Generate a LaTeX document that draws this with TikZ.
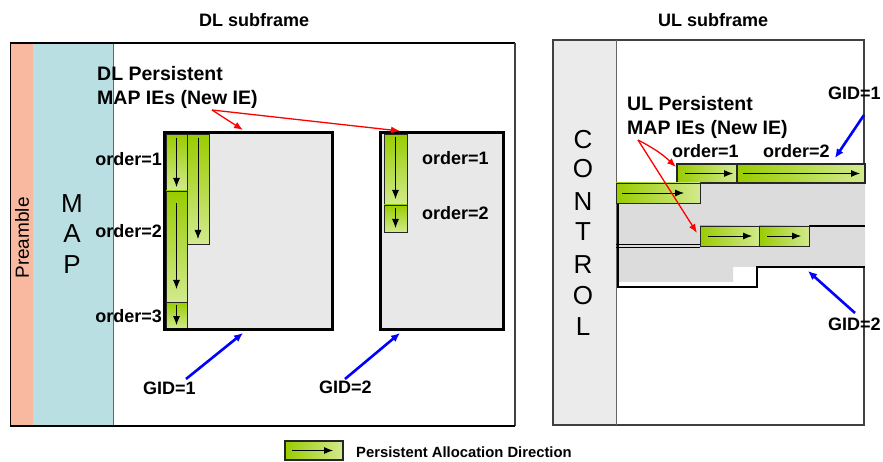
\documentclass[tikz,border=0pt]{standalone}
\usepackage{fontspec}
\setmainfont{Liberation Sans}
\usetikzlibrary{arrows.meta}
\definecolor{gdark}{HTML}{99CC00}
\definecolor{glight}{HTML}{D2EA8E}
\definecolor{boxgray}{HTML}{E8E8E8}
\definecolor{ulgray}{HTML}{DCDCDC}
\definecolor{ctrlgray}{HTML}{EBEBEB}
\definecolor{preamb}{HTML}{F9B8A0}
\definecolor{mapblue}{HTML}{B9DFE3}
\tikzset{
  x=1pt, y=-1pt,
  vstrip/.style={draw=black!85, line width=0.8pt, top color=gdark, bottom color=glight, anchor=north west, inner sep=0pt, outer sep=0pt},
  hstrip/.style={draw=black!85, line width=0.8pt, left color=gdark, right color=glight, anchor=north west, inner sep=0pt, outer sep=0pt},
  dirarrow/.style={-{Latex[length=9pt,width=7pt]}, line width=0.8pt, black},
  redarrow/.style={-{Latex[length=9pt,width=7pt]}, red, line width=1.3pt},
  bluearrow/.style={-{Latex[length=9pt,width=8pt]}, blue, line width=2.6pt},
  lbl/.style={font=\fontsize{18}{24}\selectfont\bfseries, inner sep=0pt},
  perslbl/.style={font=\fontsize{19.5}{24.5}\selectfont\bfseries, inner sep=0pt},
  bigletter/.style={font=\fontsize{26}{26}\selectfont, inner sep=0pt},
  gbox/.style={fill=boxgray, anchor=north west, inner sep=0pt, outer sep=0pt}
}
\begin{document}
\begin{tikzpicture}
\useasboundingbox[fill=white] (0,0) rectangle (883,462);

% ---------------- DL subframe ----------------
\node[lbl, anchor=base west] (dltitle) at (199,27) {DL subframe};
\fill[preamb] (10,43) rectangle (33,426);
\draw[line width=1pt] (10,43) rectangle (33,426);
\fill[mapblue] (33,43) rectangle (113,426);
\draw[line width=1pt, black!60] (113,43) -- (113,426);
\draw[line width=1.2pt] (10,43) -- (515,43);
\draw[line width=1.2pt, black!75] (515,43) -- (515,426);
\draw[line width=2pt] (10,426) -- (515,426);
\node[font=\fontsize{19}{19}\selectfont, rotate=90, inner sep=0pt] (pre) at (22,238) {Preamble};
\node[bigletter] (mapM) at (72,204) {M};
\node[bigletter] (mapA) at (72,234) {A};
\node[bigletter] (mapP) at (72,265) {P};

\node[perslbl, anchor=north west, align=left] (dlpers) at (97,66) {DL Persistent\\MAP IEs (New IE)};

% GID=1 box
\node[gbox, minimum width=168pt, minimum height=196pt] (g1) at (164,133) {};
\node[vstrip, minimum width=21pt, minimum height=57pt] (s1) at (166,134) {};
\node[vstrip, minimum width=22pt, minimum height=110pt] (s2) at (187,134) {};
\node[vstrip, minimum width=21pt, minimum height=111pt] (s3) at (166,191) {};
\node[vstrip, minimum width=21pt, minimum height=27pt] (s4) at (166,302) {};
\draw[line width=3pt] (g1.north west) rectangle (g1.south east);
\draw[dirarrow] ([yshift=-4pt]s1.north) -- ([yshift=4pt]s1.south);
\draw[dirarrow] ([yshift=-4pt]s2.north) -- ([yshift=5pt]s2.south);
\draw[dirarrow] ([yshift=-12pt]s3.north) -- ([yshift=13pt]s3.south);
\draw[dirarrow] ([yshift=-3pt]s4.north) -- ([yshift=4pt]s4.south);
\node[lbl, anchor=base east] (o1) at (162,166) {order=1};
\node[lbl, anchor=base east] (o2) at (162,238) {order=2};
\node[lbl, anchor=base east] (o3) at (162,322) {order=3};

% GID=2 box
\node[gbox, minimum width=123pt, minimum height=196pt] (g2) at (380,133) {};
\node[vstrip, minimum width=23pt, minimum height=71pt] (t1) at (384,134) {};
\node[vstrip, minimum width=23pt, minimum height=27pt] (t2) at (384,205) {};
\draw[line width=3pt] (g2.north west) rectangle (g2.south east);
\draw[dirarrow] ([yshift=-3pt]t1.north) -- ([yshift=6pt]t1.south);
\draw[dirarrow] ([yshift=-3pt]t2.north) -- ([yshift=4pt]t2.south);
\node[lbl, anchor=base west] (p1) at (422,165) {order=1};
\node[lbl, anchor=base west] (p2) at (422,220) {order=2};

% DL arrows
\coordinate (dlr) at (212,110);
\coordinate (dlrA) at (243,130);
\coordinate (dlrB) at (400,131);
\draw[redarrow] (dlr) -- (dlrA);
\draw[redarrow] (dlr) -- (dlrB);
\node[lbl, anchor=base west] (gid1) at (143,394) {GID=1};
\node[lbl, anchor=base west] (gid2) at (319,393) {GID=2};
\coordinate (b1s) at (186,379);
\coordinate (b1e) at (243,333);
\coordinate (b2s) at (345,379);
\coordinate (b2e) at (400,333);
\draw[bluearrow] (b1s) -- (b1e);
\draw[bluearrow] (b2s) -- (b2e);

% ---------------- UL subframe ----------------
\node[lbl, anchor=base west] (ultitle) at (658,27) {UL subframe};
\fill[ctrlgray] (553,40) rectangle (616,425);
\draw[line width=1.2pt, black!75] (553,40) rectangle (864,425);
\draw[line width=1pt, black!60] (616,40) -- (616,425);
\foreach \l/\yy [count=\i] in {C/140,O/169,N/202,T/232,R/265,O/296,L/327}
  \node[bigletter] (ctl\i) at (583,\yy) {\l};

\fill[ulgray] (618,183) -- (865,183) -- (865,267) -- (733,267) -- (733,282) -- (618,282) -- cycle;
\draw[line width=2pt] (618,183) -- (618,287) -- (757,287) -- (757,267) -- (865,267);
\draw[line width=1.8pt] (700,226) -- (865,226);
\draw[line width=0.8pt] (616,244) -- (700,244);
\draw[line width=0.8pt] (616,247.5) -- (700,247.5);

\node[hstrip, line width=1.4pt, minimum width=60pt, minimum height=19pt] (r1a) at (677,164) {};
\node[hstrip, line width=1.4pt, minimum width=128pt, minimum height=19pt] (r1b) at (737,164) {};
\node[hstrip, minimum width=84pt, minimum height=20pt] (r2) at (616,183) {};
\node[hstrip, minimum width=59pt, minimum height=20pt] (r3a) at (700,226) {};
\node[hstrip, minimum width=50pt, minimum height=20pt] (r3b) at (759,226) {};
\draw[dirarrow] ([xshift=8pt]r1a.west) -- ([xshift=-4pt]r1a.east);
\draw[dirarrow] ([xshift=6pt]r1b.west) -- ([xshift=-5pt]r1b.east);
\draw[dirarrow] ([xshift=6pt]r2.west) -- ([xshift=-16pt]r2.east);
\draw[dirarrow] ([xshift=8pt]r3a.west) -- ([xshift=-7pt]r3a.east);
\draw[dirarrow] ([xshift=8pt]r3b.west) -- ([xshift=-8pt]r3b.east);

\node[perslbl, anchor=north west, align=left] (ulpers) at (627,96) {UL Persistent\\MAP IEs (New IE)};
\node[lbl, anchor=base west] (u1) at (672,158) {order=1};
\node[lbl, anchor=base west] (u2) at (763,158) {order=2};
\node[lbl, anchor=base west] (ugid1) at (828,100) {GID=1};
\node[lbl, anchor=base west] (ugid2) at (828,330) {GID=2};

\coordinate (ulr) at (638,140);
\coordinate (ulrA) at (676,167);
\coordinate (ulrB) at (697,233);
\draw[redarrow] (ulr) to[bend left=8] (ulrA);
\draw[redarrow] (ulr) -- (ulrB);
\coordinate (ub1s) at (864,115);
\coordinate (ub1e) at (835,158);
\coordinate (ub2s) at (855,313);
\coordinate (ub2e) at (808,271);
\draw[bluearrow] (ub1s) -- (ub1e);
\draw[bluearrow] (ub2s) -- (ub2e);

% ---------------- legend ----------------
\node[hstrip, line width=1.4pt, minimum width=58pt, minimum height=19pt] (leg) at (285,441) {};
\draw[dirarrow] ([xshift=7pt]leg.west) -- ([xshift=-10pt]leg.east);
\node[font=\fontsize{14.8}{14.8}\selectfont\bfseries, inner sep=0pt, anchor=base west] (legtxt) at (356,457) {Persistent Allocation Direction};
\end{tikzpicture}
\end{document}
